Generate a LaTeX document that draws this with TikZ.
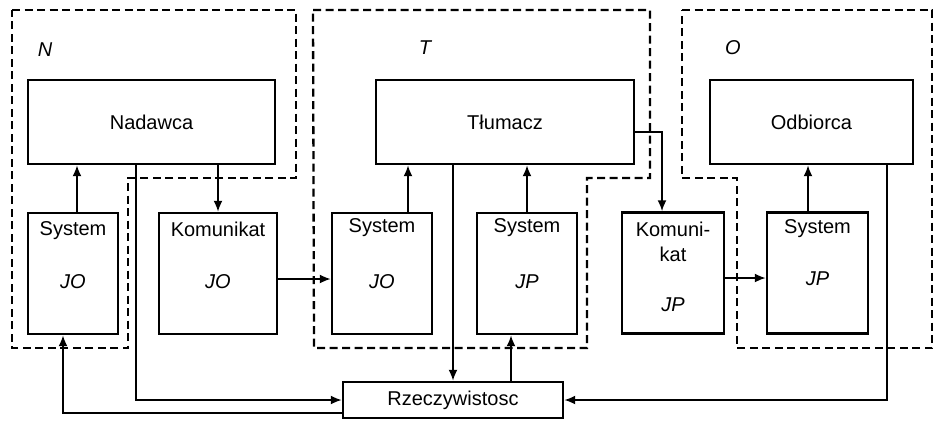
\documentclass[tikz,border=0pt]{standalone}
\usepackage{fontspec}
\setmainfont{Liberation Sans}
\usetikzlibrary{arrows.meta, positioning, calc}
\tikzset{
  bigbox/.style={
    draw,
    line width=2.4pt,
    minimum height=84pt,
    inner sep=0pt
  },
  sysbox/.style={
    draw,
    line width=2.4pt,
    minimum height=121pt,
    inner sep=0pt
  },
  txt/.style={inner sep=0pt},
  code/.style={inner sep=0pt, font=\fontsize{20}{24}\selectfont\itshape},
  arrow/.style={-{Latex[length=11pt,width=9pt]}, line width=1.9pt},
  region/.style={line width=2.3pt, dash pattern=on 8pt off 4.5pt}
}

\begin{document}
\begin{tikzpicture}[
    x=1pt, y=-1pt,
    font=\fontsize{20}{24}\selectfont
]
\useasboundingbox (0,0) rectangle (934,421);

% dashed regions N, T, O
\draw[region] (12,10) -- (296,10) -- (296,178) -- (128,178) -- (128,348) -- (12,348) -- cycle;
\draw[region] (313,10) -- (650,10) -- (650,178) -- (587,178) -- (587,348) -- (314,348) -- cycle;
\draw[region] (682,10) -- (932,10) -- (932,348) -- (737,348) -- (737,178) -- (682,178) -- cycle;

\node[code] (labN) at (45,50) {N};
\node[code] (labT) at (425,48) {T};
\node[code] (labO) at (733,48) {O};

% main boxes
\node[bigbox, minimum width=247pt] (nad) at (151.5,122) {Nadawca};
\node[bigbox, minimum width=258pt] (tlum) at (505,122) {Tłumacz};
\node[bigbox, minimum width=203pt] (odb) at (811.5,122) {Odbiorca};

% systems and messages
\node[sysbox, minimum width=90pt] (sysN) at (73,273.5) {};
\node[sysbox, minimum width=118pt] (komN) at (218,273.5) {};
\node[sysbox, minimum width=100pt] (sysTo) at (382,273.5) {};
\node[sysbox, minimum width=100pt] (sysTp) at (527,273.5) {};
\node[sysbox, minimum width=102pt] (komT) at (673,273) {};
\node[sysbox, minimum width=101pt] (sysO) at (817.5,273) {};

\node[txt] (sysNa) at ([yshift=-19pt]sysN.north) {System};
\node[code] (sysNb) at ([yshift=-70pt]sysN.north) {JO};
\node[txt] (komNa) at ([yshift=-18pt]komN.north) {Komunikat};
\node[code] (komNb) at ([yshift=-70pt]komN.north) {JO};
\node[txt] (sysToa) at ([yshift=-16pt]sysTo.north) {System};
\node[code] (sysTob) at ([yshift=-70pt]sysTo.north) {JO};
\node[txt] (sysTpa) at ([yshift=-16pt]sysTp.north) {System};
\node[code] (sysTpb) at ([yshift=-70pt]sysTp.north) {JP};
\node[txt] (komTa) at ([yshift=-18pt]komT.north) {Komuni-};
\node[txt] (komTb) at ([yshift=-43pt]komT.north) {kat};
\node[code] (komTc) at ([yshift=-93pt]komT.north) {JP};
\node[txt] (sysOa) at ([yshift=-17pt]sysO.north) {System};
\node[code] (sysOb) at ([yshift=-67pt]sysO.north) {JP};

\node[draw, line width=2.4pt, minimum width=220pt, minimum height=36pt, inner sep=0pt] (rzecz) at (453,400) {Rzeczywistosc};

% connectors
\coordinate (nN) at ([xshift=4pt]sysN.north);
\coordinate (sN) at ([xshift=-10pt]sysN.south);
\coordinate (nadR) at ([xshift=-15.5pt]nad.south);
\coordinate (nTo) at ([xshift=26pt]sysTo.north);
\coordinate (rzT) at ([xshift=58pt]rzecz.north);
\coordinate (tlK) at ([xshift=-11pt]komT.north);
\coordinate (nO) at ([xshift=-9.5pt]sysO.north);
\coordinate (odbR) at ([xshift=75.5pt]odb.south);

\draw[arrow] (nN) -- (nN |- nad.south);
\draw[arrow] (komN.north |- nad.south) -- (komN.north);
\draw[arrow] (nadR) |- (rzecz.west);
\draw[arrow] ([yshift=-13pt]rzecz.west) -| (sN);
\draw[arrow] ([yshift=-5.5pt]komN.east) -- ([yshift=-5.5pt]sysTo.west);

\draw[arrow] (nTo) -- (nTo |- tlum.south);
\draw[arrow] (sysTp.north) -- (sysTp.north |- tlum.south);
\draw[arrow] (rzecz.north |- tlum.south) -- (rzecz.north);
\draw[arrow] (rzT) -- (rzT |- sysTp.south);
\draw[arrow] ([yshift=-10pt]tlum.east) -| (tlK);

\draw[arrow] ([yshift=-5pt]komT.east) -- ([yshift=-5pt]sysO.west);
\draw[arrow] (nO) -- (nO |- odb.south);
\draw[arrow] (odbR) |- (rzecz.east);
\end{tikzpicture}
\end{document}
